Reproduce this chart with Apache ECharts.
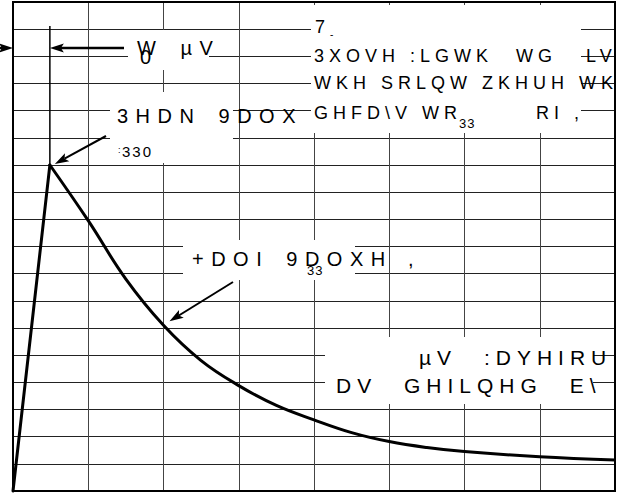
<!DOCTYPE html>
<html>
<head>
<meta charset="utf-8">
<script src="https://cdn.jsdelivr.net/npm/echarts@6/dist/echarts.min.js"></script>
<style>
html,body{margin:0;padding:0;background:#fff;}
#c{width:626px;height:493px;}
#c text[style*="20px"]{letter-spacing:7.5px !important;word-spacing:4px !important;}
#c text[style*="18px"]{letter-spacing:5px !important;}
#c text[style*="21px"]{letter-spacing:6px !important;word-spacing:15px !important;}
#c text[style*="15px"]{letter-spacing:2px !important;}
#c text[style*="13px"]{letter-spacing:1px !important;}
</style>
</head>
<body>
<div id="c"></div>
<script>
// ---- data (time in µs, amplitude in grid divisions) ----
const riseTimes  = [0, 4.9];
const riseValues = [0, 12];
const decayTimes  = [4.9, 10, 15, 20, 25, 30, 35, 40, 45, 50, 55, 60, 70, 80];
const decayValues = [12, 9.95, 7.8, 6.1, 4.8, 3.88, 3.15, 2.62, 2.15, 1.82, 1.6, 1.45, 1.26, 1.14];
const xRange = [0, 80];
const yRange = [0, 18];

// ---- texts ----
const textT0      = 'W µV';
const textT0Sub   = '0';
const textPeak    = '3HDN 9DOX';
const textPeakSub = '330';
const textT       = '7';
const textRow1a   = '3XOVH :LGWK';
const textRow1b   = 'WG';
const textRow1c   = 'LV';
const textRow2    = 'WKH SRLQW ZKHUH WK';
const textRow3a   = 'GHFD\\V WR';
const textRow3sub = '33';
const textRow3b   = 'RI ,';
const textHalf    = '+DOI 9DOXH';
const textHalfSub = '33';
const textHalfEnd = ',';
const textWave1   = 'µV :DYHIRU';
const textWave2   = 'DV GHILQHG E\\';

const chart = echarts.init(document.getElementById('c'), null, {renderer: 'svg', width: 626, height: 493});

const axisCommon = {
  type: 'value',
  axisLine: {show: false},
  axisTick: {show: false},
  axisLabel: {show: false}
};

chart.setOption({
  animation: false,
  backgroundColor: '#fff',
  grid: {left: 13, top: 2, right: 11, bottom: 2, show: false},
  xAxis: Object.assign({}, axisCommon, {
    min: xRange[0], max: xRange[1], interval: 10,
    splitLine: {show: true, showMinLine: false, showMaxLine: false, lineStyle: {color: '#444', width: 1}}
  }),
  yAxis: Object.assign({}, axisCommon, {
    min: yRange[0], max: yRange[1], interval: 1,
    splitLine: {show: true, showMinLine: false, showMaxLine: false, lineStyle: {color: '#222', width: 1}}
  }),
  series: [
    {
      type: 'line', name: 'rise',
      data: riseTimes.map((t, i) => [t, riseValues[i]]),
      symbol: 'none', showSymbol: false, clip: false, z: 5,
      lineStyle: {color: '#000', width: 3, cap: 'round'}
    },
    {
      type: 'line', name: 'decay',
      data: decayTimes.map((t, i) => [t, decayValues[i]]),
      symbol: 'none', showSymbol: false, clip: false, z: 5,
      smooth: 0.4,
      lineStyle: {color: '#000', width: 3, cap: 'round'}
    }
  ]
});

const P = (x, y) => chart.convertToPixel({gridIndex: 0}, [x, y]);
const FONT = 'Liberation Sans';

function txt(text, x, y, size) {
  return {type: 'text', x: x, y: y, z: 20, silent: true,
    style: {text: text, fontSize: size, fontFamily: FONT, fill: '#000',
      align: 'left', verticalAlign: 'middle', textAlign: 'left', textVerticalAlign: 'middle'}};
}
function box(x, y, w, h) {
  return {type: 'rect', z: 10, silent: true, shape: {x: x, y: y, width: w, height: h},
    style: {fill: '#fff', stroke: null}};
}
function arrow(x1, y1, x2, y2, lw) {
  const dx = x2 - x1, dy = y2 - y1, len = Math.hypot(dx, dy);
  const ux = dx / len, uy = dy / len, px = -uy, py = ux;
  const L = 14, W = 4.5, N = 3;
  const bx = x2 - L * ux, by = y2 - L * uy;
  const nx = x2 - (L - N) * ux, ny = y2 - (L - N) * uy;
  return [
    {type: 'line', z: 25, silent: true, shape: {x1: x1, y1: y1, x2: nx, y2: ny},
      style: {stroke: '#000', lineWidth: lw}},
    {type: 'polygon', z: 25, silent: true,
      shape: {points: [[x2, y2], [bx + W * px, by + W * py], [nx, ny], [bx - W * px, by - W * py]]},
      style: {fill: '#000'}}
  ];
}

const origin = P(xRange[0], yRange[0]);
const corner = P(xRange[1], yRange[1]);
const peak = P(riseTimes[1], riseValues[1]);
const half = P(decayTimes[3], decayValues[3]);

const graphics = [
  box(128, 30, 81, 40),
  box(110, 92, 123, 71),
  box(311, 5, 270, 128),
  box(183, 240, 172, 40),
  box(325, 337, 268, 67),

  txt(textT0, 137, 48, 20),
  txt(textT0Sub, 140, 57, 20),
  txt(textPeak, 117, 116, 20),
  txt(textPeakSub, 122, 151, 15),
  txt(':', 118, 150, 9),
  txt(textT, 315, 27, 18),
  txt('-', 330, 34, 10),
  txt(textRow1a, 314, 56, 18),
  txt(textRow1b, 516, 56, 18),
  txt(textRow1c, 586, 56, 18),
  txt(textRow2, 314, 83, 18),
  txt(textRow3a, 314, 113, 18),
  txt(textRow3sub, 459, 123, 13),
  txt(textRow3b, 536, 113, 18),
  txt(textHalf, 192, 259, 20),
  txt(textHalfSub, 307, 270, 13),
  txt(textHalfEnd, 408, 259, 20),
  txt(textWave1, 419, 357, 21),
  txt(textWave2, 336, 385, 21),

  {type: 'line', z: 25, silent: true, shape: {x1: peak[0], y1: 26, x2: peak[0], y2: peak[1]},
    style: {stroke: '#000', lineWidth: 1.5}}
]
.concat(arrow(124, 48, peak[0], 48, 2.5))
.concat(arrow(0, 48, origin[0], 48, 2.5))
.concat(arrow(106, 136, peak[0] + 5, peak[1] - 1, 2))
.concat(arrow(233, 282, half[0] + 6, half[1] - 4, 2))
.concat([
  {type: 'rect', z: 29, silent: true,
    shape: {x: corner[0] + 1, y: 0, width: 626 - corner[0], height: 493}, style: {fill: '#fff'}},
  {type: 'rect', z: 30, silent: true,
    shape: {x: origin[0], y: corner[1], width: corner[0] - origin[0], height: origin[1] - corner[1]},
    style: {fill: 'none', stroke: '#000', lineWidth: 2}}
]);

chart.setOption({graphic: {elements: graphics}});
</script>
</body>
</html>
